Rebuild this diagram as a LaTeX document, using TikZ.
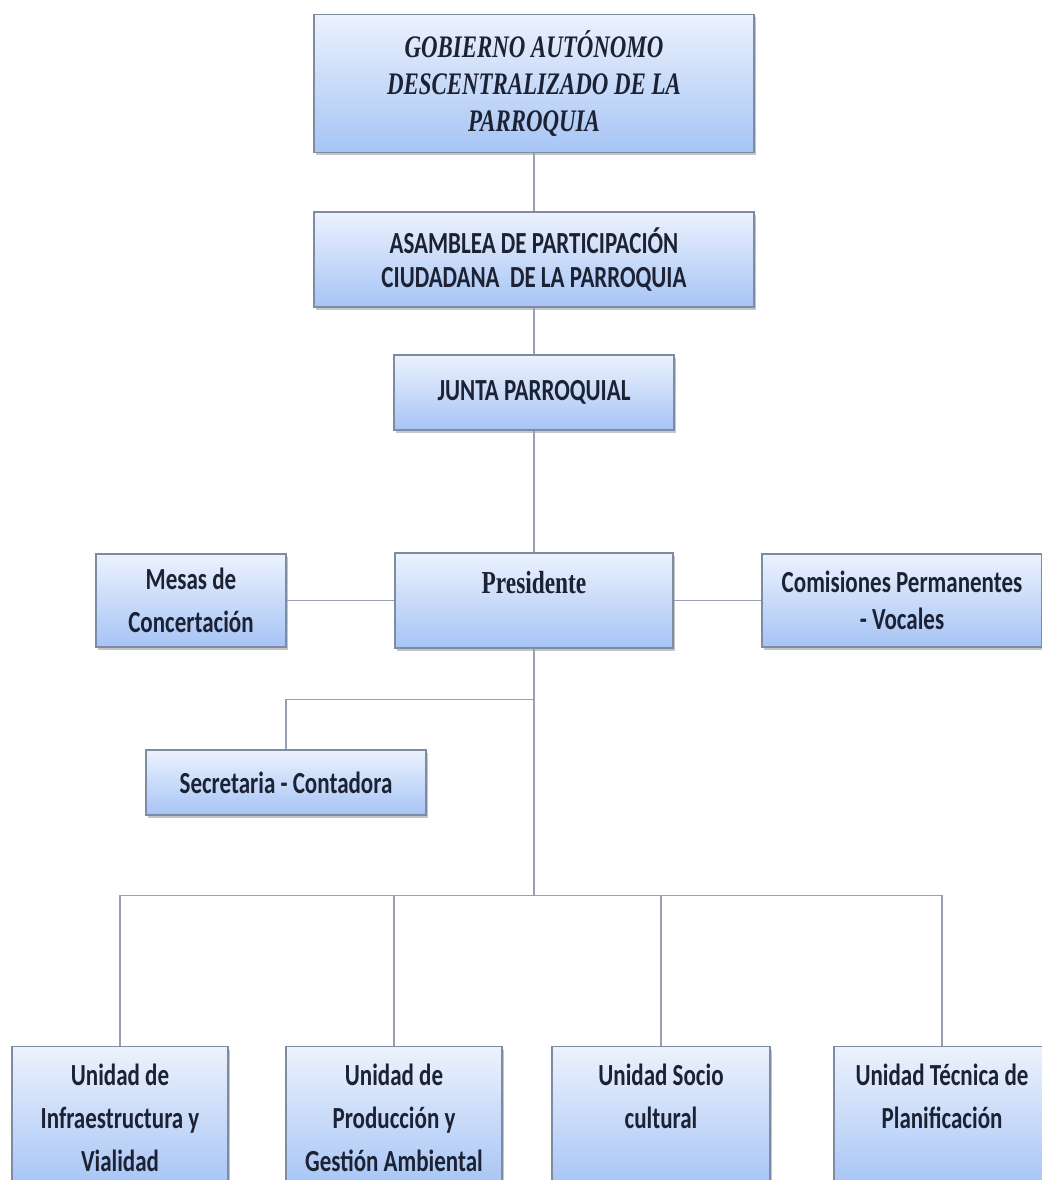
\documentclass[tikz,border=0pt]{standalone}
\usepackage{fontspec}
\setmainfont{Carlito}[FakeStretch=0.75]
\newfontfamily\cambr{Liberation Serif}[FakeStretch=0.73]
\usepackage{tikz}
\usetikzlibrary{positioning,shadows}

\definecolor{boxtop}{RGB}{236,242,253}
\definecolor{boxbot}{RGB}{166,196,245}
\definecolor{boxline}{RGB}{125,140,163}
\definecolor{linkcol}{RGB}{150,160,176}
\definecolor{txt}{RGB}{28,34,51}

\begin{document}
\begin{tikzpicture}[x=0.75pt,y=-0.75pt,on grid,node font=\bfseries\fontsize{23}{31}\selectfont]
	\useasboundingbox (0,0) rectangle (1041,1180);
	\tikzstyle{box}=[draw=boxline,line width=0.8pt,top color=boxtop,bottom color=boxbot,
		drop shadow={shadow xshift=1.5pt,shadow yshift=-2pt,fill=black!45,opacity=0.5},
		align=center,text=txt,inner sep=0pt]
	\tikzstyle{link}=[draw=linkcol,line width=1.4pt]
	\tikzstyle{unit}=[box,minimum width=162pt,minimum height=106.5pt,font=\fontsize{23}{32}\selectfont]
	
	\node[box,minimum width=330pt,minimum height=104pt,font=\cambr\bfseries\itshape\fontsize{23.5}{28}\selectfont] (GOB) at (534,83.5) {GOBIERNO AUTÓNOMO\\DESCENTRALIZADO DE LA\\PARROQUIA};
	\node[box,minimum width=330pt,minimum height=71.25pt,font=\fontsize{23}{26}\selectfont] (ASAM) [below=132pt of GOB] {ASAMBLEA DE PARTICIPACIÓN\\CIUDADANA~~DE LA PARROQUIA};
	\node[box,minimum width=210pt,minimum height=56.25pt] (JUNTA) [below=99.75pt of ASAM] {JUNTA PARROQUIAL};
	\node[box,minimum width=208.5pt,minimum height=71.25pt,font=\cambr\bfseries\fontsize{24}{26}\selectfont,text height=16pt,text depth=27pt] (PRES) [below=156pt of JUNTA] {Presidente};
	\node[box,minimum width=142.5pt,minimum height=69.75pt,font=\fontsize{23}{32}\selectfont] (MESAS) [left=257.25pt of PRES] {Mesas de\\Concertación};
	\node[box,minimum width=210pt,minimum height=69.75pt,font=\fontsize{23}{28}\selectfont] (COMIS) [right=276pt of PRES] {Comisiones Permanentes\\- Vocales};
	\node[box,minimum width=210pt,minimum height=48.75pt] (SECR) [below left=136.5pt and 186pt of PRES] {Secretaria - Contadora};
	\node[unit] (INFRA) [below left=388pt and 310.5pt of PRES] {Unidad de\\Infraestructura y\\Vialidad};
	\node[unit] (PROD) [below left=388pt and 105pt of PRES] {Unidad de\\Producción y\\Gestión Ambiental};
	\node[unit,minimum width=163.5pt] (SOCIO) [below right=388pt and 95.25pt of PRES] {Unidad Socio\\cultural\\~};
	\node[unit] (TECN) [below right=388pt and 306pt of PRES] {Unidad Técnica de\\Planificación\\~};
	
	\coordinate[below=38.25pt of PRES.south] (SPLIT);
	\coordinate[below=185.25pt of PRES.south] (BUS);
	
	\path[link]
	(GOB) edge (ASAM)
	(ASAM) edge (JUNTA)
	(JUNTA) edge (PRES)
	(MESAS) edge (PRES)
	(PRES) edge (COMIS)
	(PRES.south) edge (BUS);
	\draw[link] (SECR.north) |- (SPLIT);
	\draw[link] (INFRA.north) |- (BUS) -| (TECN.north);
	\draw[link] (PROD.north) |- (BUS);
	\draw[link] (SOCIO.north) |- (BUS);
\end{tikzpicture}
\end{document}
